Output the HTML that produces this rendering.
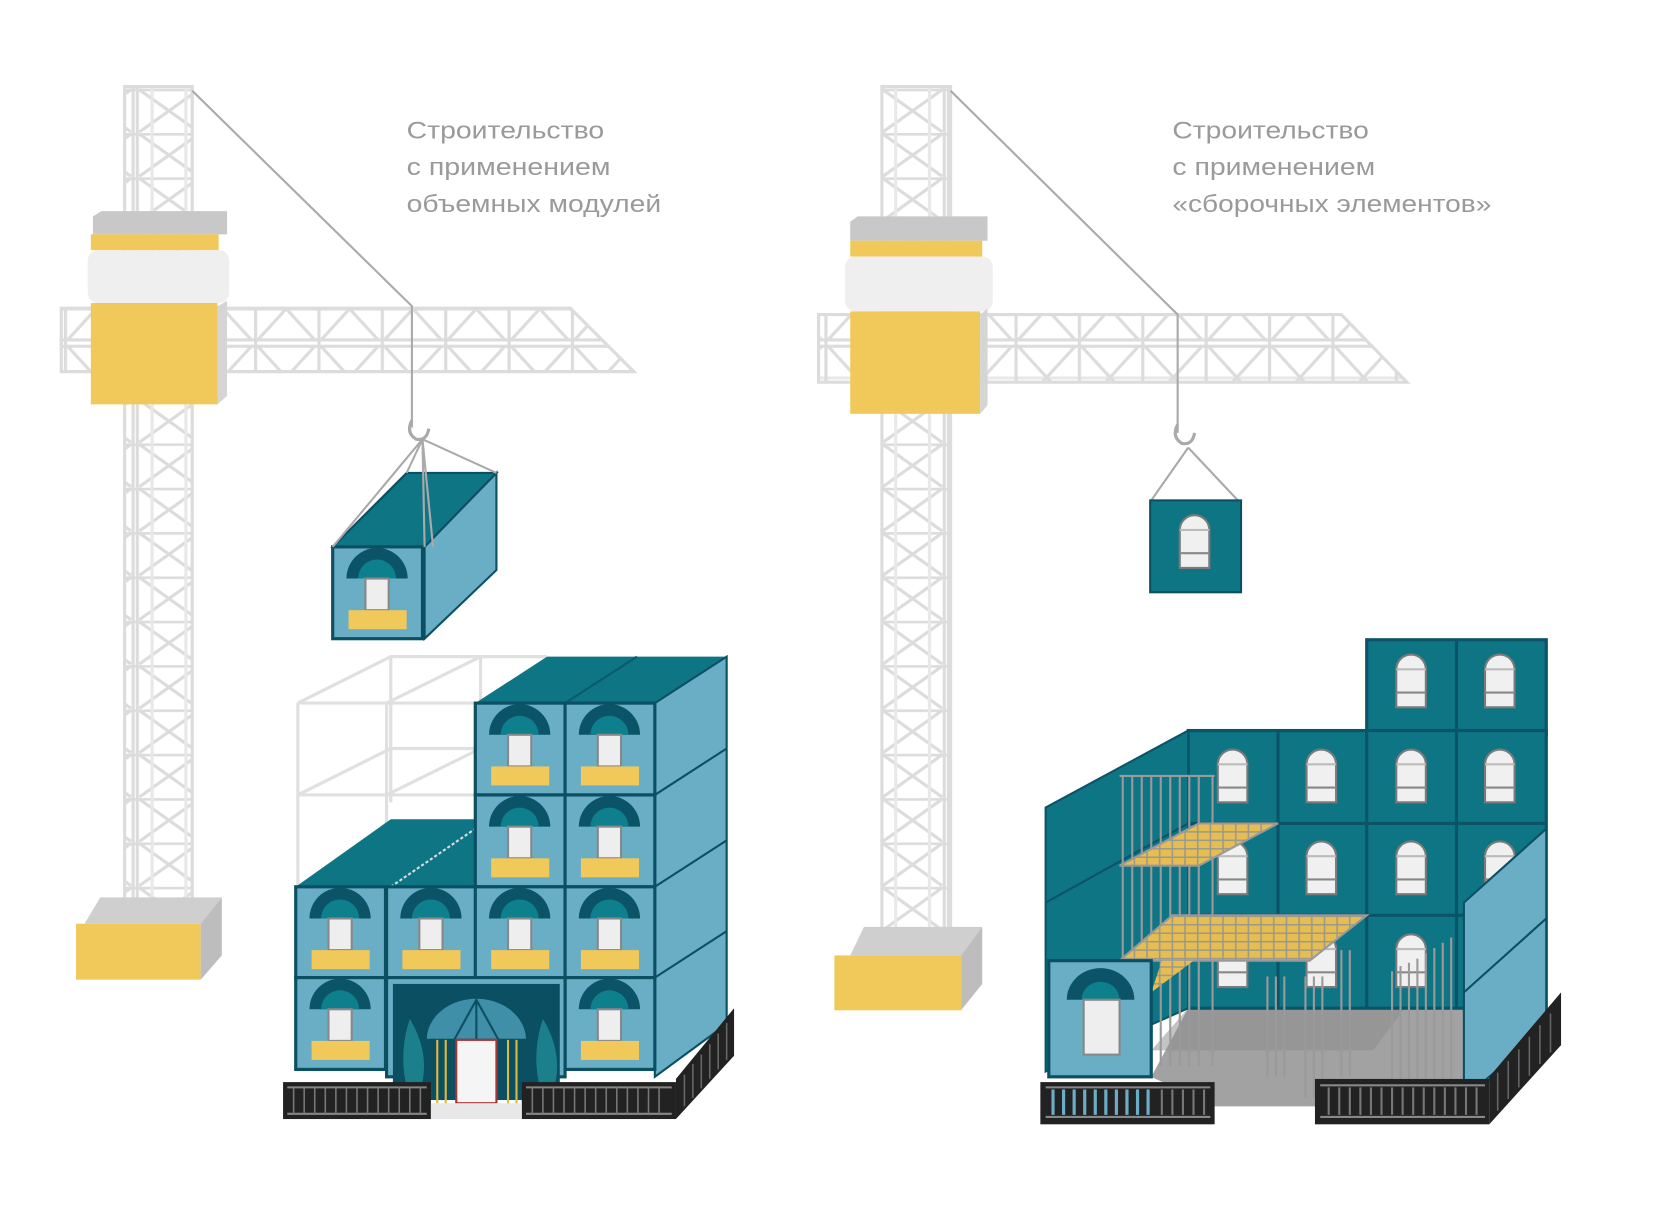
<!DOCTYPE html>
<html><head><meta charset="utf-8"><style>
html,body{margin:0;padding:0;background:#fff;}
svg{display:block}
text{font-family:"Liberation Sans","DejaVu Sans",sans-serif;font-size:23px;fill:#9a9a9a}
</style></head><body>
<svg width="1654" height="1213" viewBox="0 0 1566 1149" preserveAspectRatio="none" xmlns="http://www.w3.org/2000/svg">
<defs>
<pattern id="mast" width="64" height="42" patternUnits="userSpaceOnUse">
<g stroke="#dcdcdc" stroke-width="3" fill="none"><line x1="0" y1="1" x2="64" y2="1"/><line x1="4" y1="1" x2="60" y2="41"/><line x1="60" y1="1" x2="4" y2="41"/><line x1="2" y1="0" x2="2" y2="42"/><line x1="62" y1="0" x2="62" y2="42"/><line x1="16" y1="0" x2="16" y2="42" stroke="#e8e8e8"/><line x1="48" y1="0" x2="48" y2="42" stroke="#e8e8e8"/></g></pattern>
<pattern id="jib" width="60" height="65" patternUnits="userSpaceOnUse">
<g stroke="#dcdcdc" stroke-width="3" fill="none"><line x1="0" y1="3" x2="60" y2="3"/><line x1="0" y1="62" x2="60" y2="62"/><line x1="0" y1="33" x2="60" y2="33" stroke="#e8e8e8"/><line x1="2" y1="0" x2="2" y2="65"/><line x1="4" y1="3" x2="58" y2="62"/><line x1="58" y1="3" x2="4" y2="62"/></g></pattern>
<pattern id="slab" width="12" height="8" patternUnits="userSpaceOnUse"><rect width="12" height="8" fill="#e6bd52"/><path d="M0 4H12M6 0V8" stroke="#9a9a8a" stroke-width="1.5"/></pattern>
<g id="m">
<rect x="0" y="0" width="85" height="87" fill="#6aaec6" stroke="#0b4f63" stroke-width="3"/>
<path d="M13 30 A29 29 0 0 1 71 30 Z" fill="#0b5468"/>
<path d="M24 30 A18 18 0 0 1 60 30 Z" fill="#0e7f8c"/>
<rect x="31" y="30" width="22" height="30" fill="#eee" stroke="#888" stroke-width="2"/>
<rect x="15" y="60" width="55" height="18" fill="#f1c85a"/>
</g>
<g id="aw">
<path d="M-14 50 V14 A14 14 0 0 1 14 14 V50 Z" fill="#f0f0f0" stroke="#7a7a7a" stroke-width="2"/>
<path d="M-14 14 H14" stroke="#bbb" stroke-width="2"/><path d="M-14 36 H14" stroke="#888" stroke-width="2"/>
</g>
</defs>

<text x="385" y="131" textLength="187" lengthAdjust="spacingAndGlyphs">Строительство</text>
<text x="385" y="166" textLength="193" lengthAdjust="spacingAndGlyphs">с применением</text>
<text x="385" y="201" textLength="241" lengthAdjust="spacingAndGlyphs">объемных модулей</text>
<text x="1110" y="131" textLength="186" lengthAdjust="spacingAndGlyphs">Строительство</text>
<text x="1110" y="166" textLength="192" lengthAdjust="spacingAndGlyphs">с применением</text>
<text x="1110" y="201" textLength="302" lengthAdjust="spacingAndGlyphs">«сборочных элементов»</text>

<!-- LEFT CRANE -->
<rect x="118" y="82" width="64" height="788" fill="url(#mast)" stroke="#dcdcdc" stroke-width="3"/>
<path d="M58 292 H540 L600 352 H58 Z" fill="url(#jib)" stroke="#dcdcdc" stroke-width="3"/>
<path d="M182 86 L390 290 V405" stroke="#aaa" stroke-width="2" fill="none"/>
<path d="M390 398 q-6 12 4 18 q10 2 12 -10" stroke="#aaa" stroke-width="3" fill="none"/>
<path d="M88 205 L96 200 H215 V222 H88 Z" fill="#c8c8c8"/>
<rect x="86" y="222" width="121" height="15" fill="#f1c85a"/>
<rect x="83" y="237" width="134" height="50" rx="10" fill="#efefef"/>
<rect x="86" y="287" width="120" height="96" fill="#f1c85a"/>
<path d="M206 290 L215 285 V375 L206 383Z" fill="#d5d5d5"/>
<path d="M80 875 L95 850 H210 L190 875Z" fill="#cfcfcf"/>
<rect x="72" y="875" width="118" height="53" fill="#f1c85a"/>
<path d="M190 875 L210 850 V905 L190 928Z" fill="#bdbdbd"/>
<path d="M315 518 L385 448 H470 L402 518Z" fill="#0e7585" stroke="#0b4f63" stroke-width="2"/>
<path d="M402 518 L470 448 V540 L402 605Z" fill="#6aaec6" stroke="#0b4f63" stroke-width="2"/>
<use href="#m" transform="translate(315,518)"/>
<g stroke="#aaa" stroke-width="2" fill="none"><path d="M400 416 L315 518 M400 416 L385 448 M400 416 L470 448 M400 416 L410 518 M400 416 L402 518"/></g>

<!-- LEFT BUILDING -->
<g stroke="#e0e0e0" stroke-width="3" fill="none">
<path d="M282 666 H450 M282 753 H450 M282 666 V840 M366 666 V840 M282 666 L370 622 H518 M366 666 L455 622 M282 753 L370 709 M366 753 L455 709 M370 622 V760 M455 622 V666 M370 709 H450"/>
</g>
<path d="M280 840 L370 776 H450 V840Z" fill="#0e7585"/>
<path d="M370 840 L450 785" stroke="#ddd" stroke-width="2" stroke-dasharray="3 2"/>
<path d="M450 666 L518 622 H688 L620 666Z" fill="#0e7585"/>
<path d="M535 666 L603 622" stroke="#0b5a6a" stroke-width="2"/>
<path d="M620 666 L688 622 V970 L620 1020Z" fill="#6aaec6" stroke="#0b4f63" stroke-width="2"/>
<path d="M620 753 L688 709 M620 840 L688 796 M620 926 L688 882" stroke="#0b4f63" stroke-width="2"/>
<use href="#m" transform="translate(450,666)"/><use href="#m" transform="translate(535,666)"/>
<use href="#m" transform="translate(450,753)"/><use href="#m" transform="translate(535,753)"/>
<use href="#m" transform="translate(280,840)"/><use href="#m" transform="translate(366,840)"/>
<use href="#m" transform="translate(450,840)"/><use href="#m" transform="translate(535,840)"/>
<use href="#m" transform="translate(280,926)"/><use href="#m" transform="translate(535,926)"/>
<rect x="366" y="926" width="169" height="94" fill="#6aaec6" stroke="#0b4f63" stroke-width="3"/>
<rect x="372" y="932" width="158" height="110" fill="#0b4f63"/>
<path d="M403 985 A48 40 0 0 1 499 985 Z" fill="#3f8fa8" stroke="#0b4f63" stroke-width="2"/>
<path d="M430 985 L451 947 L472 985 M451 947 V985" stroke="#0b4f63" stroke-width="2" fill="none"/>
<rect x="432" y="985" width="38" height="60" fill="#f5f5f5" stroke="#a33" stroke-width="2"/>
<path d="M414 985 V1050 M422 985 V1050 M481 985 V1050 M489 985 V1050" stroke="#e0b93c" stroke-width="2"/>
<path d="M388 965 q-10 30 -4 60 h16 q6 -30 -12 -60Z" fill="#1c7f8c"/>
<path d="M514 965 q-10 30 -4 60 h16 q6 -30 -12 -60Z" fill="#1c7f8c"/>
<rect x="268" y="1025" width="140" height="35" fill="#222"/>
<rect x="494" y="1025" width="146" height="35" fill="#222"/>
<path d="M640 1060 L695 1000 V955 L640 1022Z" fill="#222"/>
<g stroke="#666" stroke-width="1.5"><path d="M648 1018V1048M656 1008V1040M664 999V1031M672 989V1022M680 979V1013M688 969V1004"/></g>
<path d="M272 1030 H404 M272 1055 H404 M498 1030 H636 M498 1055 H636" stroke="#888" stroke-width="2"/>
<g stroke="#777" stroke-width="1.5">
<path d="M278 1030V1055M288 1030V1055M298 1030V1055M308 1030V1055M318 1030V1055M328 1030V1055M338 1030V1055M348 1030V1055M358 1030V1055M368 1030V1055M378 1030V1055M388 1030V1055M398 1030V1055"/>
<path d="M504 1030V1055M514 1030V1055M524 1030V1055M534 1030V1055M544 1030V1055M554 1030V1055M564 1030V1055M574 1030V1055M584 1030V1055M594 1030V1055M604 1030V1055M614 1030V1055M624 1030V1055"/>
</g>
<rect x="408" y="1045" width="86" height="15" fill="#e8e8e8"/>

<!-- RIGHT CRANE -->
<rect x="835" y="82" width="65" height="812" fill="url(#mast)" stroke="#dcdcdc" stroke-width="3"/>
<path d="M775 298 H1270 L1332 362 H775 Z" fill="url(#jib)" stroke="#dcdcdc" stroke-width="3"/>
<path d="M900 86 L1115 298 V410" stroke="#aaa" stroke-width="2" fill="none"/>
<path d="M1115 402 q-6 12 4 18 q10 2 12 -10" stroke="#aaa" stroke-width="3" fill="none"/>
<path d="M805 210 L812 205 H935 V228 H805 Z" fill="#c8c8c8"/>
<rect x="805" y="228" width="125" height="15" fill="#f1c85a"/>
<rect x="800" y="243" width="140" height="52" rx="10" fill="#efefef"/>
<rect x="805" y="295" width="123" height="97" fill="#f1c85a"/>
<path d="M928 298 L935 292 V384 L928 392Z" fill="#d5d5d5"/>
<path d="M805 905 L818 878 H930 L910 905Z" fill="#cfcfcf"/>
<rect x="790" y="905" width="120" height="52" fill="#f1c85a"/>
<path d="M910 905 L930 878 V932 L910 957Z" fill="#bdbdbd"/>
<path d="M1125 424 L1090 474 M1125 424 L1172 474" stroke="#aaa" stroke-width="2"/>
<rect x="1089" y="474" width="86" height="87" fill="#0e7585" stroke="#0b4f63" stroke-width="2"/>
<use href="#aw" transform="translate(1131,488)"/>

<!-- RIGHT BUILDING -->
<path d="M1090 1020 L1150 1048 H1390 L1470 955 H1125Z" fill="#a2a2a2"/>
<path d="M1125 955 L1090 995 H1300 L1330 955Z" fill="#8a8a8a" opacity=".5"/>
<rect x="1294" y="606" width="170" height="90" fill="#0e7585" stroke="#0b5468" stroke-width="3"/>
<rect x="1125" y="692" width="339" height="263" fill="#0e7585" stroke="#0b5468" stroke-width="3"/>
<path d="M1379 606 V955 M1125 780 H1464 M1125 867 H1464 M1210 692 V955 M1294 692 V955" stroke="#0b5468" stroke-width="3"/>
<path d="M990 765 L1125 692 V955 L990 1015Z" fill="#0e7585" stroke="#0b5468" stroke-width="2"/>
<path d="M990 855 L1125 780" stroke="#0b5468" stroke-width="2"/>
<use href="#aw" transform="translate(1336,620)"/><use href="#aw" transform="translate(1420,620)"/>
<use href="#aw" transform="translate(1167,710)"/><use href="#aw" transform="translate(1251,710)"/><use href="#aw" transform="translate(1336,710)"/><use href="#aw" transform="translate(1420,710)"/>
<use href="#aw" transform="translate(1167,797)"/><use href="#aw" transform="translate(1251,797)"/><use href="#aw" transform="translate(1336,797)"/><use href="#aw" transform="translate(1420,797)"/>
<use href="#aw" transform="translate(1167,885)"/><use href="#aw" transform="translate(1251,885)"/><use href="#aw" transform="translate(1336,885)"/>
<g stroke="#9a9a9a" stroke-width="2">
<path d="M1060 735 H1150 M1063 735V1010M1072 735V1010M1081 735V1010M1090 735V1010M1099 735V1010M1108 735V1010M1117 735V1010M1126 735V1010M1135 735V1010M1148 735V1010"/>
<path d="M1200 925V1020M1208 925V1020M1216 925V1020M1236 925V1040M1244 925V1040M1252 925V1040M1270 900V1020M1278 900V1020M1318 920V1030M1326 915V1030M1334 912V1030M1342 908V1030M1350 903V1030M1358 898V1030M1366 893V1030M1374 888V1030"/>
</g>
<path d="M1060 820 L1135 780 H1210 L1135 820Z" fill="url(#slab)" stroke="#999" stroke-width="2"/>
<path d="M1060 910 L1110 867 H1294 L1240 910Z" fill="url(#slab)" stroke="#999" stroke-width="2"/>
<path d="M1100 910 L1090 940 L1130 910" fill="url(#slab)"/>
<path d="M1386 855 L1464 785 V975 L1386 1040Z" fill="#6aaec6" stroke="#0b4f63" stroke-width="2"/>
<path d="M1386 940 L1464 870" stroke="#0b4f63" stroke-width="2"/>
<rect x="993" y="910" width="97" height="110" fill="#6aaec6" stroke="#0b4f63" stroke-width="3"/>
<path d="M1010 947 A32 30 0 0 1 1074 947 Z" fill="#0b5468"/>
<path d="M1024 947 A18 17 0 0 1 1060 947 Z" fill="#0e7f8c"/>
<rect x="1026" y="947" width="34" height="52" fill="#eee" stroke="#888" stroke-width="2"/>
<rect x="985" y="1025" width="165" height="40" fill="#222"/>
<rect x="1245" y="1022" width="165" height="43" fill="#222"/>
<path d="M1410 1065 L1478 990 V940 L1410 1020Z" fill="#222"/>
<g stroke="#666" stroke-width="1.5"><path d="M1418 1016V1052M1428 1005V1041M1438 994V1030M1448 982V1019M1458 971V1008M1468 960V997"/></g>
<g stroke="#888" stroke-width="2"><path d="M990 1030H1146M990 1058H1146M1250 1028H1406M1250 1058H1406"/></g>
<g stroke="#6aaec6" stroke-width="3"><path d="M997 1032V1056M1007 1032V1056M1017 1032V1056M1027 1032V1056M1037 1032V1056M1047 1032V1056M1057 1032V1056M1067 1032V1056M1077 1032V1056M1087 1032V1056"/></g>
<g stroke="#777" stroke-width="2"><path d="M1100 1032V1056M1110 1032V1056M1120 1032V1056M1130 1032V1056M1140 1032V1056M1258 1030V1056M1268 1030V1056M1278 1030V1056M1288 1030V1056M1298 1030V1056M1308 1030V1056M1318 1030V1056M1328 1030V1056M1338 1030V1056M1348 1030V1056M1358 1030V1056M1368 1030V1056M1378 1030V1056M1388 1030V1056M1398 1030V1056"/></g>
</svg>
</body></html>
